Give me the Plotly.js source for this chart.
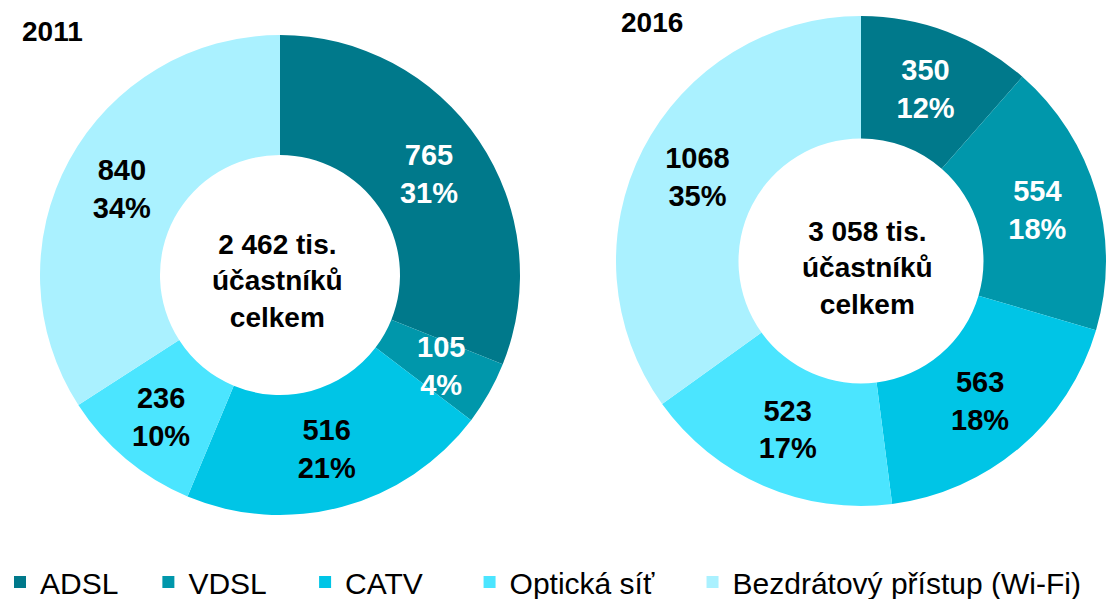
<!DOCTYPE html>
<html>
<head>
<meta charset="utf-8">
<script src="https://cdn.plot.ly/plotly-3.0.1.min.js"></script>
<style>html,body{margin:0;padding:0;background:#fff;}#chart{width:1118px;height:599px;}</style>
</head>
<body>
<div id="chart"></div>
<script>
const categories = ["ADSL", "VDSL", "CATV", "Optická síť", "Bezdrátový přístup (Wi-Fi)"];
const colors = ["#00798B", "#0097AB", "#00C5E6", "#4BE5FF", "#AAF1FF"];
const textColors = ["#ffffff", "#ffffff", "#000000", "#000000", "#000000"];
const years = ["2011", "2016"];
const values2011 = [765, 105, 516, 236, 840];
const pct2011 = [31, 4, 21, 10, 34];
const values2016 = [350, 554, 563, 523, 1068];
const pct2016 = [12, 18, 18, 17, 35];
const totals = ["2 462", "3 058"];
const centerLabel = " tis.<br>účastníků<br>celkem";

// legend spacing (trailing no-break spaces, visual only)
const legendPad = [3, 4, 5, 4, 0];

const W = 1118, H = 599;
const FONT = "Liberation Sans, Arial, sans-serif";

const pies = [
  { cx: 280, cy: 275, r: 240 },
  { cx: 861, cy: 261, r: 245 }
];

function dom(p) {
  return { x: [(p.cx - p.r) / W, (p.cx + p.r) / W], y: [1 - (p.cy + p.r) / H, 1 - (p.cy - p.r) / H] };
}

const legendLabels = categories.map((c, i) => c + "\u00A0".repeat(legendPad[i]));

function labelText(vals, pcts) {
  return vals.map((v, i) => v + "<br>" + pcts[i] + "%");
}

function pieTrace(vals, pcts, p, showlegend, textpos) {
  return {
    type: "pie",
    labels: legendLabels,
    values: vals,
    text: labelText(vals, pcts),
    textinfo: "text",
    textposition: textpos,
    insidetextorientation: "horizontal",
    insidetextfont: { family: FONT, size: 29, color: textColors, weight: "bold" },
    hole: 0.5,
    sort: false,
    direction: "clockwise",
    rotation: 0,
    marker: { colors: colors, line: { width: 0 } },
    domain: dom(p),
    showlegend: showlegend,
    hoverinfo: "label+value"
  };
}

// The thin 2011 VDSL slice: its label overflows the slice, placed on the slice's mid-angle
function sliceLabel(vals, pcts, idx, p, rFrac) {
  const total = vals.reduce((a, b) => a + b, 0);
  let cum = 0;
  for (let i = 0; i < idx; i++) cum += vals[i];
  const theta = (cum + vals[idx] / 2) / total * 2 * Math.PI;
  const x = p.cx + rFrac * p.r * Math.sin(theta);
  const y = p.cy - rFrac * p.r * Math.cos(theta);
  return {
    text: labelText(vals, pcts)[idx], xref: "paper", yref: "paper",
    x: x / W, y: 1 - y / H, xanchor: "center", yanchor: "middle", showarrow: false,
    font: { family: FONT, size: 29, color: textColors[idx], weight: "bold" }
  };
}

const data = [
  pieTrace(values2011, pct2011, pies[0], true, ["inside", "none", "inside", "inside", "inside"]),
  pieTrace(values2016, pct2016, pies[1], false, "inside")
];

const layout = {
  width: W, height: H,
  margin: { l: 0, r: 0, t: 0, b: 0, autoexpand: false },
  paper_bgcolor: "#fff",
  font: { family: FONT, color: "#000" },
  uniformtext: { minsize: 29, mode: "show" },
  showlegend: true,
  legend: {
    orientation: "h",
    x: 0.0, xanchor: "left",
    y: 1 - 582 / H, yanchor: "middle",
    font: { family: FONT, size: 30, color: "#000" },
    traceorder: "normal"
  },
  annotations: [
    { text: years[0], xref: "paper", yref: "paper", x: 20 / W, y: 1 - 31 / H, xanchor: "left", yanchor: "middle", showarrow: false, font: { family: FONT, size: 28, color: "#000", weight: "bold" } },
    { text: years[1], xref: "paper", yref: "paper", x: 619 / W, y: 1 - 23 / H, xanchor: "left", yanchor: "middle", showarrow: false, font: { family: FONT, size: 28, color: "#000", weight: "bold" } },
    { text: totals[0] + centerLabel, xref: "paper", yref: "paper", x: 277 / W, y: 1 - 281 / H, xanchor: "center", yanchor: "middle", showarrow: false, font: { family: FONT, size: 28, color: "#000", weight: "bold" } },
    { text: totals[1] + centerLabel, xref: "paper", yref: "paper", x: 867 / W, y: 1 - 268 / H, xanchor: "center", yanchor: "middle", showarrow: false, font: { family: FONT, size: 28, color: "#000", weight: "bold" } },
    sliceLabel(values2011, pct2011, 1, pies[0], 0.77)
  ]
};

Plotly.newPlot("chart", data, layout, { displayModeBar: false, staticPlot: true });
</script>
</body>
</html>
